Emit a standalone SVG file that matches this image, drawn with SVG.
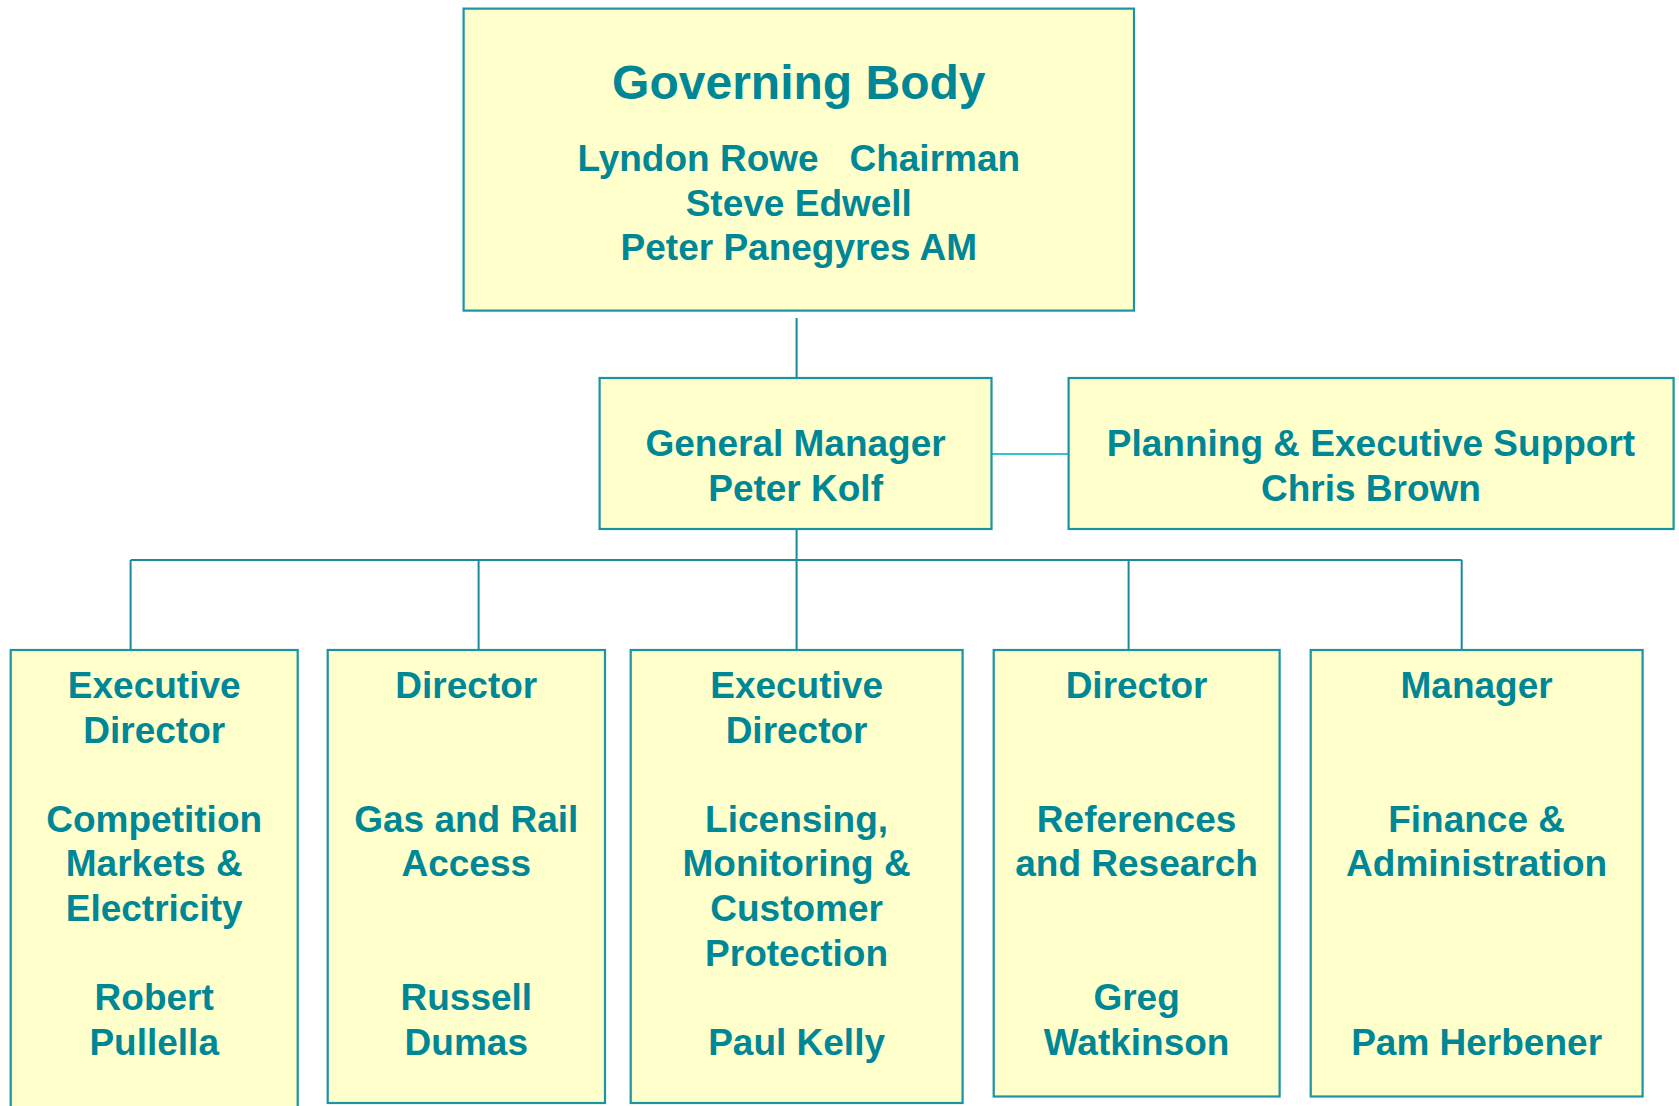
<svg xmlns="http://www.w3.org/2000/svg" width="1679" height="1106" viewBox="0 0 1679 1106">
<style>
.box{fill:#FFFFCC;stroke:#1a93a2;stroke-width:2.2}
.t{font-family:"Liberation Sans",Arial,sans-serif;font-weight:bold;font-size:37px;fill:#008796;text-anchor:middle}
.big{font-size:48px}
.c{stroke:#1a8a9a;stroke-width:2;fill:none}
.c2{stroke:#33c4cc;stroke-width:2;fill:none}
</style>
<rect width="1679" height="1106" fill="#ffffff"/>
<g id="connectors">
<line class="c" x1="796.6" y1="318" x2="796.6" y2="378"/>
<line class="c2" x1="991.5" y1="454" x2="1068.6" y2="454"/>
<line class="c" x1="796.6" y1="529" x2="796.6" y2="650"/>
<line class="c" x1="130.6" y1="560" x2="1461.7" y2="560"/>
<line class="c" x1="130.6" y1="560" x2="130.6" y2="650"/>
<line class="c" x1="478.6" y1="560" x2="478.6" y2="650"/>
<line class="c" x1="1128.6" y1="560" x2="1128.6" y2="650"/>
<line class="c" x1="1461.7" y1="560" x2="1461.7" y2="650"/>
</g>
<g id="governing-body">
<rect class="box" x="463.6" y="8.6" width="670.4" height="302"/>
<text class="t big" x="798.8" y="98.5">Governing Body</text>
<text class="t" x="798.8" y="171" xml:space="preserve">Lyndon Rowe   Chairman</text>
<text class="t" x="798.8" y="215.5">Steve Edwell</text>
<text class="t" x="798.8" y="260">Peter Panegyres AM</text>
</g>
<g id="general-manager">
<rect class="box" x="599.6" y="378" width="391.9" height="151"/>
<text class="t" x="795.6" y="456">General Manager</text>
<text class="t" x="795.6" y="501">Peter Kolf</text>
</g>
<g id="planning-support">
<rect class="box" x="1068.6" y="378" width="605" height="151"/>
<text class="t" x="1371" y="456">Planning &amp; Executive Support</text>
<text class="t" x="1371" y="501">Chris Brown</text>
</g>
<g id="competition">
<rect class="box" x="10.7" y="650" width="287" height="470"/>
<text class="t" x="154.2" y="698">Executive</text>
<text class="t" x="154.2" y="742.6">Director</text>
<text class="t" x="154.2" y="831.8">Competition</text>
<text class="t" x="154.2" y="876.4">Markets &amp;</text>
<text class="t" x="154.2" y="921">Electricity</text>
<text class="t" x="154.2" y="1010.2">Robert</text>
<text class="t" x="154.2" y="1054.8">Pullella</text>
</g>
<g id="gas-rail">
<rect class="box" x="327.7" y="650" width="277.3" height="453"/>
<text class="t" x="466.3" y="698">Director</text>
<text class="t" x="466.3" y="831.8">Gas and Rail</text>
<text class="t" x="466.3" y="876.4">Access</text>
<text class="t" x="466.3" y="1010.2">Russell</text>
<text class="t" x="466.3" y="1054.8">Dumas</text>
</g>
<g id="licensing">
<rect class="box" x="630.7" y="650" width="331.9" height="453"/>
<text class="t" x="796.6" y="698">Executive</text>
<text class="t" x="796.6" y="742.6">Director</text>
<text class="t" x="796.6" y="831.8">Licensing,</text>
<text class="t" x="796.6" y="876.4">Monitoring &amp;</text>
<text class="t" x="796.6" y="921">Customer</text>
<text class="t" x="796.6" y="965.6">Protection</text>
<text class="t" x="796.6" y="1054.8">Paul Kelly</text>
</g>
<g id="references">
<rect class="box" x="993.7" y="650" width="285.9" height="446.5"/>
<text class="t" x="1136.6" y="698">Director</text>
<text class="t" x="1136.6" y="831.8">References</text>
<text class="t" x="1136.6" y="876.4">and Research</text>
<text class="t" x="1136.6" y="1010.2">Greg</text>
<text class="t" x="1136.6" y="1054.8">Watkinson</text>
</g>
<g id="finance">
<rect class="box" x="1310.7" y="650" width="331.9" height="446.5"/>
<text class="t" x="1476.6" y="698">Manager</text>
<text class="t" x="1476.6" y="831.8">Finance &amp;</text>
<text class="t" x="1476.6" y="876.4">Administration</text>
<text class="t" x="1476.6" y="1054.8">Pam Herbener</text>
</g>
</svg>
